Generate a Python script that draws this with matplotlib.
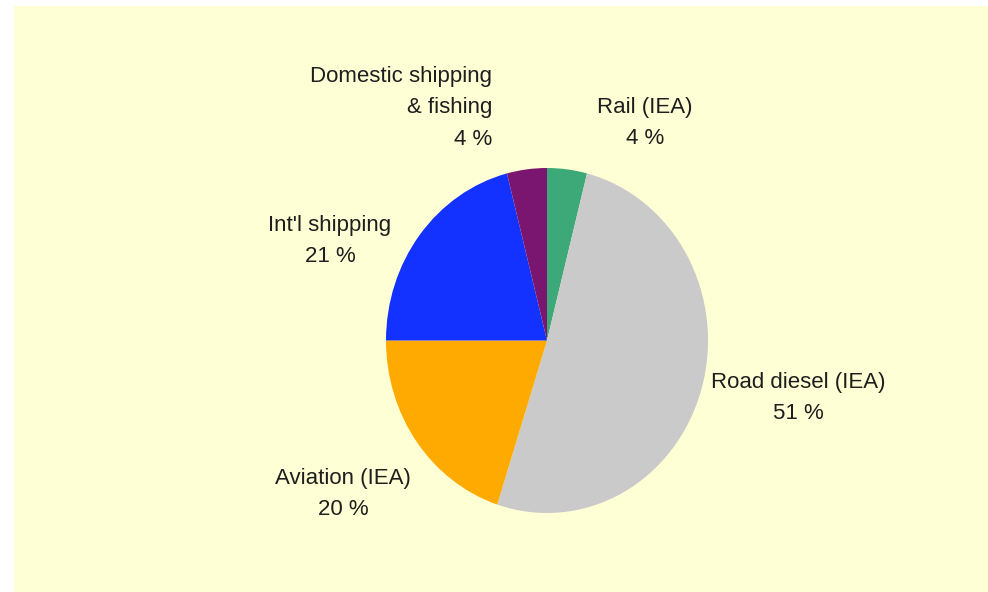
import matplotlib
matplotlib.use("Agg")
import matplotlib.pyplot as plt
from matplotlib.patches import Rectangle

labels = ["Rail (IEA)", "Road diesel (IEA)", "Aviation (IEA)", "Int'l shipping", "Domestic shipping\n& fishing"]
values = [4, 51, 20, 21, 4]
colors = ["#3DA878", "#CACACA", "#FFAA00", "#1432FF", "#7A1670"]

W, H = 988, 592
fig = plt.figure(figsize=(W / 100, H / 100), dpi=100)
fig.patch.set_facecolor("white")
fig.patches.append(Rectangle((14 / W, 0), 1 - 14 / W, 1 - 6 / H, transform=fig.transFigure,
                             facecolor="#FFFFD5", edgecolor="none", zorder=-5))

# pie box in pixels (left, right, top, bottom)
pl, pr, pt, pb = 386, 708, 168, 513
ax = fig.add_axes([pl / W, (H - pb) / H, (pr - pl) / W, (pb - pt) / H])
ax.set_zorder(2)
ax.pie(values, colors=colors, startangle=90, counterclock=False,
       wedgeprops=dict(linewidth=0))
ax.set_aspect("auto")
ax.set_xlim(-1, 1)
ax.set_ylim(-1, 1)
ax.axis("off")
ax.patch.set_alpha(0)

font = dict(family=["Liberation Sans", "DejaVu Sans"], fontsize=16, color="#1e1e1e",
            linespacing=1.68, zorder=3)

# label placements (pixel x, pixel y of text block center, alignment)
placements = [
    (645, 123, "center"),
    (798, 398, "center"),
    (343, 494, "center"),
    (330, 241, "center"),
    (492, 108, "right"),
]
for lab, v, (px, py, ha) in zip(labels, values, placements):
    fig.text(px / W, 1 - py / H, f"{lab}\n{v} %", ha=ha, va="center",
             multialignment=ha, **font)

fig.savefig("out.png", dpi=100, facecolor=fig.get_facecolor())
